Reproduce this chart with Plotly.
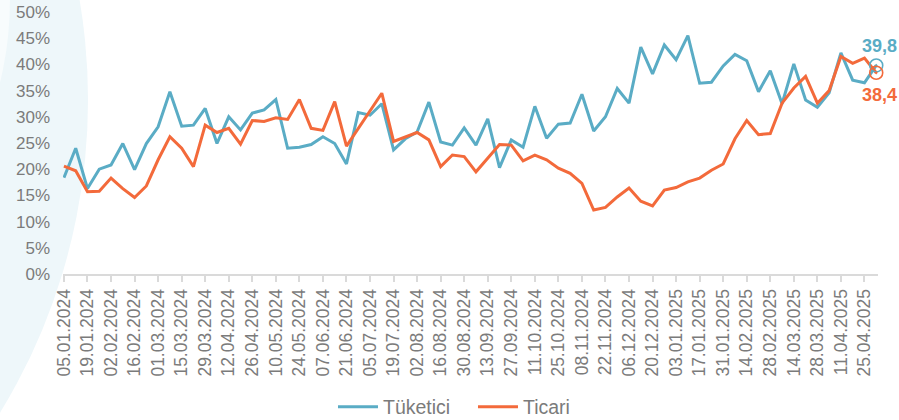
import plotly.graph_objects as go
from datetime import date, timedelta

# ---- data ----
start = date(2024, 1, 5)
dates = [(start + timedelta(weeks=i)).strftime("%d.%m.%Y") for i in range(70)]
tick_labels = dates[0:69:2]

tuketici = [18.4, 24.0, 16.3, 20.0, 20.8, 24.9, 19.9, 24.9, 28.1, 34.8,
            28.2, 28.4, 31.6, 24.9, 30.0, 27.5, 30.7, 31.3, 33.3, 24.0,
            24.2, 24.7, 26.2, 24.9, 21.0, 30.8, 30.3, 32.5, 23.7, 25.8,
            27.1, 32.8, 25.2, 24.6, 27.9, 24.6, 29.6, 20.3, 25.6, 24.2,
            32.0, 25.9, 28.6, 28.8, 34.3, 27.3, 30.0, 35.4, 32.6, 43.3,
            38.2, 43.7, 40.9, 45.5, 36.4, 36.6, 39.7, 41.9, 40.7, 34.8,
            38.8, 32.5, 40.1, 33.2, 31.8, 34.6, 42.2, 37.0, 36.5, 39.8]

ticari = [20.6, 19.7, 15.7, 15.8, 18.3, 16.3, 14.6, 16.8, 21.8, 26.2,
          24.0, 20.5, 28.4, 27.0, 27.8, 24.8, 29.3, 29.1, 29.8, 29.5,
          33.3, 27.8, 27.4, 32.9, 24.4, 27.8, 31.2, 34.5, 25.3, 26.2,
          27.0, 25.6, 20.5, 22.7, 22.4, 19.5, 22.1, 24.7, 24.6, 21.6,
          22.7, 21.8, 20.2, 19.2, 17.3, 12.2, 12.7, 14.7, 16.4, 13.9,
          13.0, 16.0, 16.5, 17.6, 18.3, 19.8, 21.0, 25.8, 29.3, 26.6,
          26.8, 32.6, 35.5, 37.7, 32.6, 35.0, 41.5, 40.2, 41.2, 38.4]

last_labels = ["39,8", "38,4"]
y_ticks = [0, 5, 10, 15, 20, 25, 30, 35, 40, 45, 50]

BLUE = "#5aacc5"
ORANGE = "#f36a3b"
GRAY = "#7b7b7b"
FONT = "Liberation Sans"

x = list(range(len(dates)))

fig = go.Figure()
fig.add_trace(go.Scatter(x=x, y=tuketici, mode="lines", name="Tüketici",
                         line=dict(color=BLUE, width=3)))
fig.add_trace(go.Scatter(x=x, y=ticari, mode="lines", name="Ticari",
                         line=dict(color=ORANGE, width=3)))

# end markers
for series, col in ((tuketici, BLUE), (ticari, ORANGE)):
    fig.add_trace(go.Scatter(x=[x[-1]], y=[series[-1]], mode="markers",
                             showlegend=False, cliponaxis=False,
                             marker=dict(symbol="circle-open-dot", size=13,
                                         color=col, line=dict(width=1.6, color=col))))

fig.add_annotation(x=x[-1], y=tuketici[-1], text="<b>%s</b>" % last_labels[0],
                   showarrow=False, xshift=3, yshift=19,
                   font=dict(family=FONT, size=18, color=BLUE))
fig.add_annotation(x=x[-1], y=ticari[-1], text="<b>%s</b>" % last_labels[1],
                   showarrow=False, xshift=3, yshift=-22,
                   font=dict(family=FONT, size=18, color=ORANGE))

# decorative background arcs
fig.add_shape(type="circle", xref="paper", yref="paper",
              x0=-1.4417, x1=0.0307, y0=-1.626, y1=2.954,
              fillcolor="#eef7fa", line=dict(width=0), layer="below")
fig.add_shape(type="circle", xref="paper", yref="paper",
              x0=-0.9215, x1=-0.0651, y0=-0.286, y1=2.378,
              fillcolor="#f8fcfd", line=dict(width=0), layer="below")

fig.update_layout(
    width=899, height=420,
    margin=dict(l=63, r=21, t=12, b=146, autoexpand=False),
    paper_bgcolor="white",
    plot_bgcolor="rgba(0,0,0,0)",
    font=dict(family=FONT, size=17, color=GRAY),
    showlegend=True,
    legend=dict(orientation="h", xref="container", yref="container",
                x=0.3704, xanchor="left", y=0.077, yanchor="top",
                entrywidth=85, itemwidth=40,
                font=dict(family=FONT, size=19.5, color=GRAY),
                bgcolor="rgba(0,0,0,0)"),
    xaxis=dict(range=[-0.08, 69.15], tickmode="array", automargin=False,
               tickvals=x[0:69:2], ticktext=tick_labels,
               tickangle=-90, showgrid=False, zeroline=False,
               showline=True, linecolor="#dadada", linewidth=2,
               ticks="outside", ticklen=6, tickcolor="#dadada", tickwidth=1.5,
               tickfont=dict(family=FONT, size=17.5, color=GRAY)),
    yaxis=dict(range=[0, 50], tickmode="array", tickvals=y_ticks, automargin=False,
               ticktext=["%d%%" % v for v in y_ticks],
               showgrid=False, zeroline=False, showline=False,
               ticks="", ticklabelstandoff=12,
               tickfont=dict(family=FONT, size=17, color=GRAY)),
)

fig.write_html("out.html", config={"displayModeBar": False},
               post_script="document.body.style.margin='0';document.body.style.overflow='hidden';")
